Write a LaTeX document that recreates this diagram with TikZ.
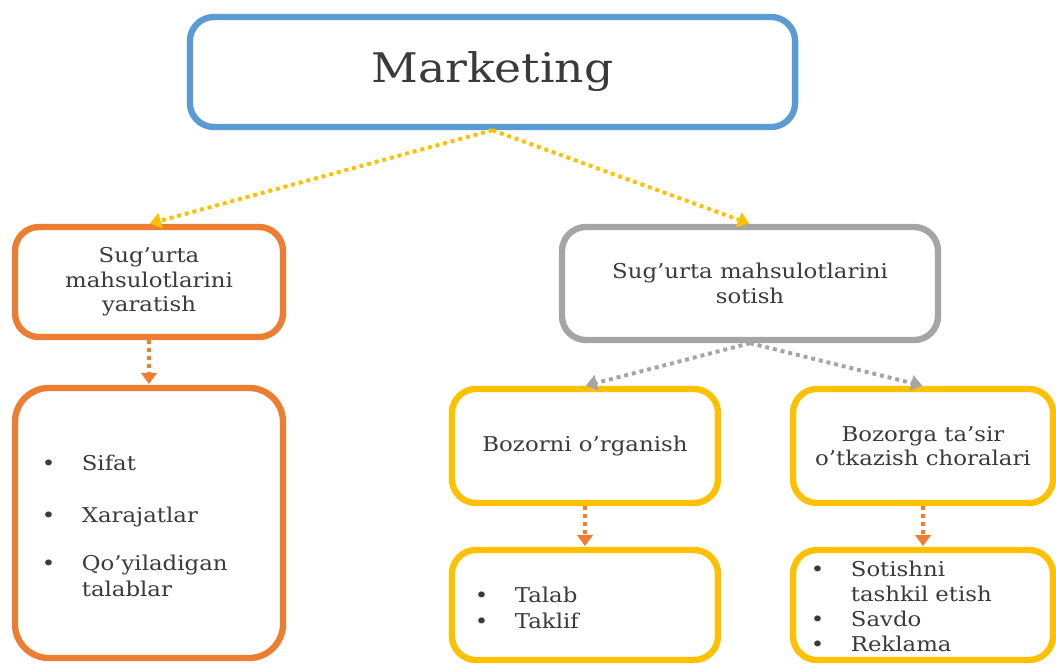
\documentclass[tikz,border=0pt]{standalone}
\usepackage{fontspec}
\setmainfont{DejaVu Serif}[FakeStretch=1.12]
\usetikzlibrary{arrows.meta}
\definecolor{mblue}{HTML}{5B9BD5}
\definecolor{morange}{HTML}{ED7D31}
\definecolor{mgray}{HTML}{A5A5A5}
\definecolor{myellow}{HTML}{FFC000}
\definecolor{mtext}{HTML}{3A3A3A}
\begin{document}
\begin{tikzpicture}[x=0.025cm, y=-0.025cm,
    box/.style = {draw, line width=4.5pt, rounded corners=0.6cm, align=center, text=mtext,
        inner sep=0pt, font=\fontsize{14.5}{17.4}\selectfont},
    listbox/.style = {box, align=left, font=\fontsize{14.5}{18.5}\selectfont},
    link/.style = {line width=2.8pt, dash pattern=on 2.8pt off 2.8pt,
        -{Triangle[length=8pt, width=11pt]}, shorten >=0.5pt}]
    \useasboundingbox (0,0) rectangle (1056,663);
    \node [box, draw=mblue, minimum width=15.125cm, minimum height=2.75cm,
        font=\fontsize{29}{34}\selectfont] (mkt) at (492.5,72) {Marketing};
    \node [box, draw=morange, minimum width=6.7cm, minimum height=2.75cm] (yarat) at (149,282)
        {Sug’urta\\mahsulotlarini\\yaratish};
    \node [box, draw=mgray, minimum width=9.4cm, minimum height=2.825cm] (sotish) at (750,283.5)
        {Sug’urta mahsulotlarini\\sotish};
    \node [listbox, draw=morange, minimum width=6.7cm, minimum height=6.75cm, rounded corners=0.85cm,
        text width=5.35cm] (omillar) at (149,523)
        {\begin{tabular}{@{}l@{\hspace{0.66cm}}l@{}}
            \noalign{\vskip 8pt}
            • & Sifat\\ \noalign{\vskip 18pt}
            • & Xarajatlar\\ \noalign{\vskip 16pt}
            • & Qo’yiladigan\\
              & talablar
        \end{tabular}};
    \node [box, draw=myellow, minimum width=6.65cm, minimum height=2.85cm] (bozorni) at (585,446)
        {Bozorni o’rganish};
    \node [box, draw=myellow, minimum width=6.5cm, minimum height=2.85cm] (bozorga) at (923,446)
        {Bozorga ta’sir\\o’tkazish choralari};
    \node [listbox, draw=myellow, minimum width=6.65cm, minimum height=2.75cm,
        text width=5.5cm] (talab) at (585,605)
        {\begin{tabular}{@{}l@{\hspace{0.66cm}}l@{}}
            \noalign{\vskip 7pt}
            • & Talab\\
            • & Taklif
        \end{tabular}};
    \node [listbox, draw=myellow, minimum width=6.5cm, minimum height=2.75cm,
        text width=5.6cm, font=\fontsize{14.5}{17.8}\selectfont] (sotishni) at (923,605)
        {\begin{tabular}{@{}l@{\hspace{0.66cm}}l@{}}
            \noalign{\vskip 6pt}
            • & Sotishni\\
              & tashkil etish\\
            • & Savdo\\
            • & Reklama
        \end{tabular}};
    \draw [link, myellow] (mkt.south) -- (yarat.north);
    \draw [link, myellow] (mkt.south) -- (sotish.north);
    \draw [link, mgray] (sotish.south) -- (bozorni.north);
    \draw [link, mgray] (sotish.south) -- (bozorga.north);
    \draw [link, morange] (yarat.south) -- (omillar.north);
    \draw [link, morange] (bozorni.south) -- (talab.north);
    \draw [link, morange] (bozorga.south) -- (sotishni.north);
\end{tikzpicture}
\end{document}
